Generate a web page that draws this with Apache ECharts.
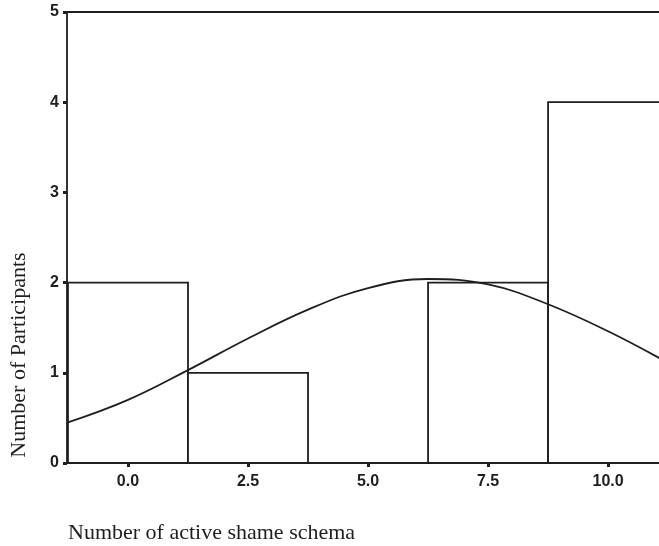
<!DOCTYPE html>
<html>
<head>
<meta charset="utf-8">
<script src="https://cdn.jsdelivr.net/npm/echarts@6/dist/echarts.min.js"></script>
<style>
  html, body { margin: 0; padding: 0; background: #fff; }
  #chart { width: 659px; height: 546px; }
</style>
</head>
<body>
<div id="chart"></div>
<script>
// histogram bins (left and right edges) and counts
const binLeft  = [-1.25, 1.25, 3.75, 6.25, 8.75];
const binRight = [1.25, 3.75, 6.25, 8.75, 11.25];
const counts   = [2, 1, 0, 2, 4];

// normal curve
const curveX = [-1.25, 0, 1.25, 2.5, 3.75, 5, 6.25, 7.5, 8.75, 10, 11.25];
const curveY = [0.45, 0.70, 1.03, 1.38, 1.70, 1.94, 2.04, 1.98, 1.76, 1.46, 1.11];

// tick labels
const xTicks = [0, 2.5, 5, 7.5, 10];
const yTicks = [0, 1, 2, 3, 4, 5];

// visible x range (the original is cropped on the right)
const xMin = -1.27;
const xMax = 11.06;

const ink = '#1e1e1e';

const chart = echarts.init(document.getElementById('chart'));

const bins = binLeft.map((x0, i) => [x0, binRight[i], counts[i]]);
const curve = curveX.map((x, i) => [x, curveY[i]]);

chart.setOption({
  animation: false,
  grid: { left: 67, right: 0, top: 12, bottom: 83 },
  xAxis: [
    {
      type: 'value',
      min: xMin, max: xMax,
      splitLine: { show: false },
      axisLine: { onZero: false, lineStyle: { color: ink, width: 1.8 } },
      axisTick: { customValues: xTicks, length: 4, lineStyle: { color: ink, width: 3 } },
      axisLabel: {
        customValues: xTicks,
        formatter: v => v.toFixed(1),
        margin: 11, color: ink, fontFamily: 'Liberation Sans', fontWeight: 'bold', fontSize: 16
      }
    },
    {
      // top frame line
      type: 'value', position: 'top',
      min: xMin, max: xMax,
      splitLine: { show: false },
      axisLine: { show: true, onZero: false, lineStyle: { color: ink, width: 1.8 } },
      axisTick: { show: false },
      axisLabel: { show: false }
    }
  ],
  yAxis: {
    type: 'value',
    min: 0, max: 5, interval: 1,
    splitLine: { show: false },
    axisLine: { show: true, onZero: false, lineStyle: { color: ink, width: 1.8 } },
    axisTick: { show: true, length: 4, lineStyle: { color: ink, width: 3 } },
    axisLabel: {
      formatter: v => yTicks.includes(v) ? String(v) : '',
      margin: 8, color: ink, fontFamily: 'Liberation Sans', fontWeight: 'bold', fontSize: 16
    }
  },
  series: [
    {
      type: 'custom',
      data: bins,
      clip: true,
      encode: { x: [0, 1], y: 2 },
      renderItem: function (params, api) {
        const c = api.value(2);
        if (!c) return null;
        const p0 = api.coord([api.value(0), c]);
        const p1 = api.coord([api.value(1), 0]);
        return {
          type: 'rect',
          shape: { x: p0[0], y: p0[1], width: p1[0] - p0[0], height: p1[1] - p0[1] },
          style: { fill: '#fff', stroke: ink, lineWidth: 1.8 }
        };
      }
    },
    {
      type: 'line',
      data: curve,
      smooth: 0.4,
      showSymbol: false,
      lineStyle: { color: ink, width: 1.8 },
      z: 5
    }
  ],
  graphic: [
    {
      type: 'text',
      left: 68, top: 522,
      style: {
        text: 'Number of active shame schema',
        fontFamily: 'Liberation Serif', fontSize: 22, fill: ink
      }
    },
    {
      type: 'text',
      x: 19, y: 355, rotation: Math.PI / 2,
      style: {
        text: 'Number of Participants',
        fontFamily: 'Liberation Serif', fontSize: 22, fill: ink,
        align: 'center', verticalAlign: 'middle'
      }
    }
  ]
});
</script>
</body>
</html>
